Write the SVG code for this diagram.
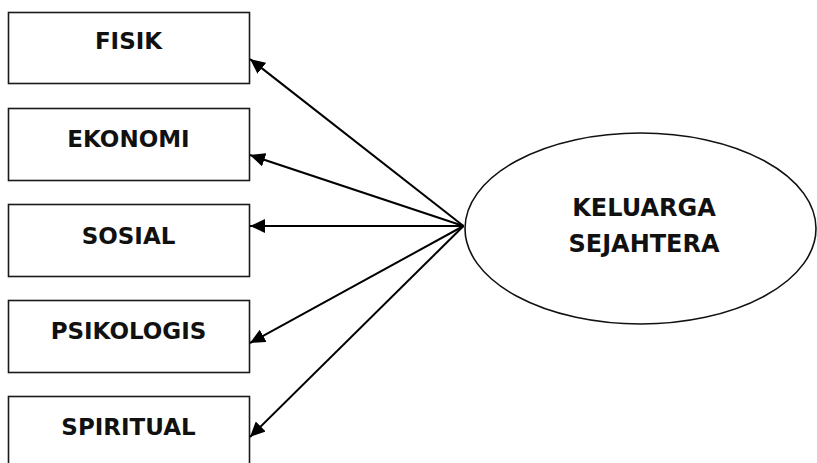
<svg xmlns="http://www.w3.org/2000/svg" width="817" height="463" viewBox="0 0 817 463">
  <style>
    .box { fill: #ffffff; stroke: #1a1a1a; stroke-width: 1.6; }
    .ell { fill: #ffffff; stroke: #111111; stroke-width: 1.6; }
    .lbl { font-family: "DejaVu Sans", "Liberation Sans", sans-serif; font-weight: bold; font-size: 23px; fill: #111111; text-anchor: middle; }
    .big { font-size: 24px; }
    .conn { stroke: #000000; stroke-width: 2; fill: none; marker-end: url(#arrow); }
  </style>
  <defs>
    <marker id="arrow" markerUnits="userSpaceOnUse" markerWidth="16" markerHeight="14" refX="15" refY="7" orient="auto">
      <path d="M0,0 L15,7 L0,14 Z" fill="#000000"/>
    </marker>
  </defs>
  <rect width="817" height="463" fill="#ffffff"/>

  <g id="fisik">
    <rect class="box" x="8.5" y="12.5" width="241" height="71"/>
    <text class="lbl" x="128.5" y="48.5">FISIK</text>
  </g>
  <g id="ekonomi">
    <rect class="box" x="8.5" y="108.5" width="241" height="72"/>
    <text class="lbl" x="128.5" y="147.3">EKONOMI</text>
  </g>
  <g id="sosial">
    <rect class="box" x="8.5" y="204.5" width="241" height="72"/>
    <text class="lbl" x="128.5" y="244">SOSIAL</text>
  </g>
  <g id="psikologis">
    <rect class="box" x="8.5" y="300.5" width="241" height="72"/>
    <text class="lbl" x="128.5" y="338.5">PSIKOLOGIS</text>
  </g>
  <g id="spiritual">
    <rect class="box" x="8.5" y="396.5" width="241" height="80"/>
    <text class="lbl" x="128.5" y="435">SPIRITUAL</text>
  </g>

  <g id="keluarga-sejahtera">
    <ellipse class="ell" cx="640.5" cy="228.5" rx="175.5" ry="95.5"/>
    <text class="lbl big" x="644" y="215.7">KELUARGA</text>
    <text class="lbl big" x="644" y="251.7">SEJAHTERA</text>
  </g>

  <g id="connectors">
    <line class="conn" x1="463.5" y1="226" x2="250" y2="59"/>
    <line class="conn" x1="463.5" y1="226" x2="250" y2="155"/>
    <line class="conn" x1="463.5" y1="226" x2="250" y2="226"/>
    <line class="conn" x1="463.5" y1="226" x2="250" y2="343"/>
    <line class="conn" x1="463.5" y1="226" x2="250" y2="437"/>
  </g>
</svg>
